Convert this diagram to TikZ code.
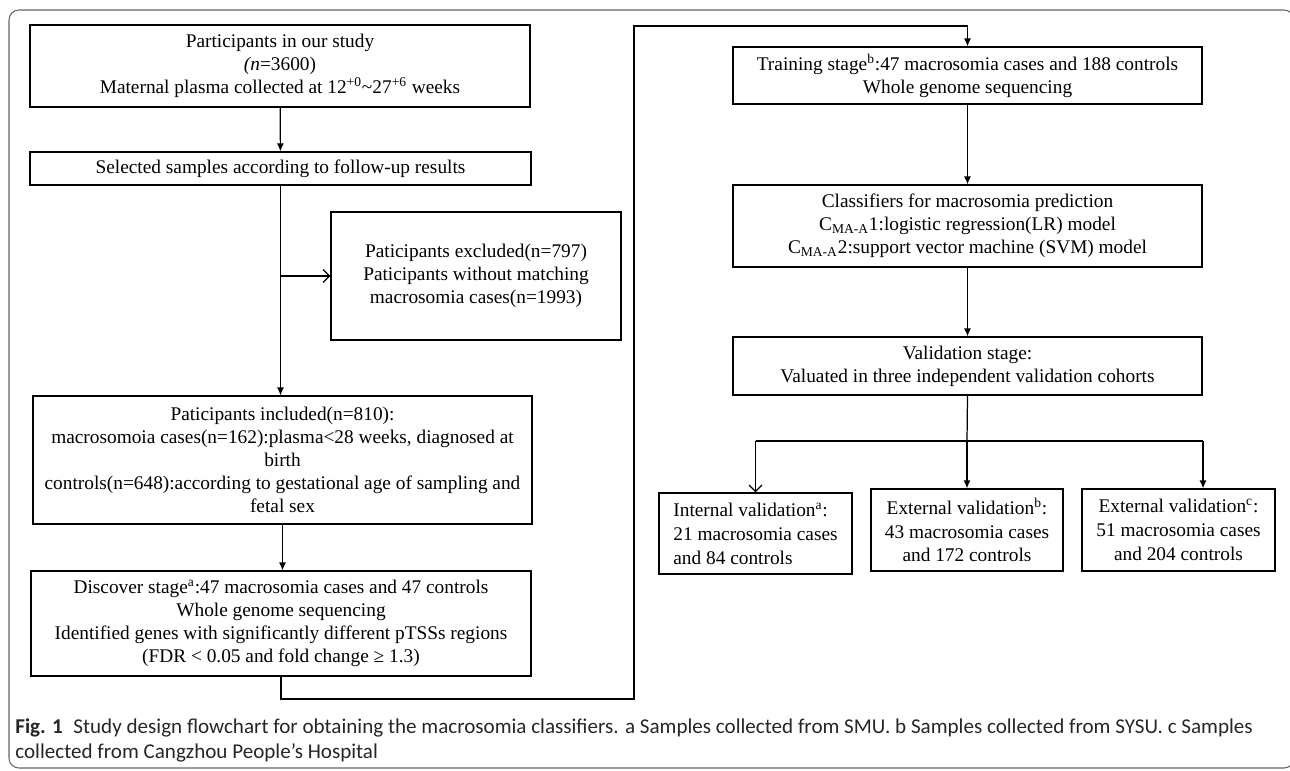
\documentclass[tikz,border=0pt]{standalone}
\usepackage{fontspec}
\setmainfont{Liberation Serif}
\newfontfamily\capfont{Carlito}
\usetikzlibrary{arrows.meta}
\begin{document}
\begin{tikzpicture}[x=0.02cm,y=-0.02cm,
        box/.style={draw,line width=0.7pt,inner sep=0pt,align=center,
            font=\fontsize{11}{13}\selectfont},
        smallbox/.style={box,font=\fontsize{11}{13.6}\selectfont},
        arr/.style={line width=0.7pt,-{Latex[length=1.6mm,width=1.4mm]}},
        openarr/.style={line width=0.7pt,-{Straight Barb[length=1.3mm,width=2.6mm]}},
        captext/.style={anchor=base west,inner sep=0pt,text=black!85,
            font=\capfont\fontsize{12}{14}\selectfont}]
        \useasboundingbox (0,0) rectangle (1290,770);
        %% Frame
        \draw[black!60,line width=0.6pt,rounded corners=0.2cm] (9,10) rectangle (1294,768);
        %% Left column
        \node[box,minimum width=10cm,minimum height=1.64cm] (study) at (280,66)
            {Participants in our study\\ \textit{(n}=3600)\\
             Maternal plasma collected at 12\textsuperscript{+0}\textasciitilde27\textsuperscript{+6} weeks};
        \node[box,minimum width=10.02cm,minimum height=0.66cm] (select) at (280.5,168.5)
            {Selected samples according to follow-up results};
        \node[box,minimum width=5.8cm,minimum height=2.56cm] (excl) at (476,276)
            {Paticipants excluded(n=797)\\ Paticipants without matching\\ macrosomia cases(n=1993)};
        \node[box,minimum width=9.98cm,minimum height=2.56cm] (incl) at (282.5,460)
            {Paticipants included(n=810):\\
             macrosomoia cases(n=162):plasma<28 weeks, diagnosed at\\ birth\\
             controls(n=648):according to gestational age of sampling and\\ fetal sex};
        \node[box,minimum width=10cm,minimum height=2.1cm] (disc) at (281,623.5)
            {Discover stage\textsuperscript{a}:47 macrosomia cases and 47 controls\\
             Whole genome sequencing\\
             Identified genes with significantly different pTSSs regions\\
             (FDR < 0.05 and fold change ≥ 1.3)};
        %% Right column
        \node[box,minimum width=9.38cm,minimum height=1.14cm] (train) at (967.5,75.5)
            {Training stage\textsuperscript{b}:47 macrosomia cases and 188 controls\\
             Whole genome sequencing};
        \node[box,minimum width=9.38cm,minimum height=1.64cm] (clf) at (967.5,226)
            {Classifiers for macrosomia prediction\\
             C\textsubscript{MA-A}1:logistic regression(LR) model\\
             C\textsubscript{MA-A}2:support vector machine (SVM) model};
        \node[box,minimum width=9.38cm,minimum height=1.16cm] (valid) at (967.5,366)
            {Validation stage:\\ Valuated in three independent validation cohorts};
        \node[smallbox,align=left,minimum width=3.86cm,minimum height=1.62cm] (intv) at (755.5,533.5)
            {Internal validation\textsuperscript{a}:\\ 21 macrosomia cases\\ and 84 controls};
        \node[smallbox,minimum width=3.84cm,minimum height=1.64cm] (extb) at (967,530)
            {External validation\textsuperscript{b}:\\ 43 macrosomia cases\\ and 172 controls};
        \node[smallbox,minimum width=3.86cm,minimum height=1.64cm] (extc) at (1178.5,530)
            {External validation\textsuperscript{c}:\\ 51 macrosomia cases\\ and 204 controls};
        %% Connectors
        \draw[arr] (study) -- (select);
        \draw[arr] (select.south) -- (select.south |- incl.north);
        \coordinate (exbr) at (select.south |- excl.west);
        \draw[openarr] (exbr) -- (excl.west);
        \draw[arr] (incl.south) -- (incl.south |- disc.north);
        \coordinate (lowturn) at (634,699);
        \coordinate (topturn) at (634,26);
        \draw[arr] (disc.south) |- (lowturn) -- (topturn) -| (train.north);
        \draw[arr] (train) -- (clf);
        \draw[arr] (clf) -- (valid);
        \coordinate (split) at (967,441);
        \coordinate (splitl) at (intv.north |- split);
        \coordinate (splitr) at (1203,441);
        \draw[line width=0.7pt] (valid.south) -- (split);
        \draw[line width=0.7pt] (splitl) -- (splitr);
        \draw[openarr] (splitl) -- (intv.north);
        \draw[arr] (split) -- (extb.north);
        \draw[arr] (splitr) -- (splitr |- extc.north);
        %% Caption
        \node[captext] (cap1) at (15,733)
            {\textbf{Fig. 1}\enspace Study design flowchart for obtaining the macrosomia classifiers. a Samples collected from SMU. b Samples collected from SYSU. c Samples};
        \node[captext] (cap2) at (15,758) {collected from Cangzhou People’s Hospital};
    \end{tikzpicture}
\end{document}
